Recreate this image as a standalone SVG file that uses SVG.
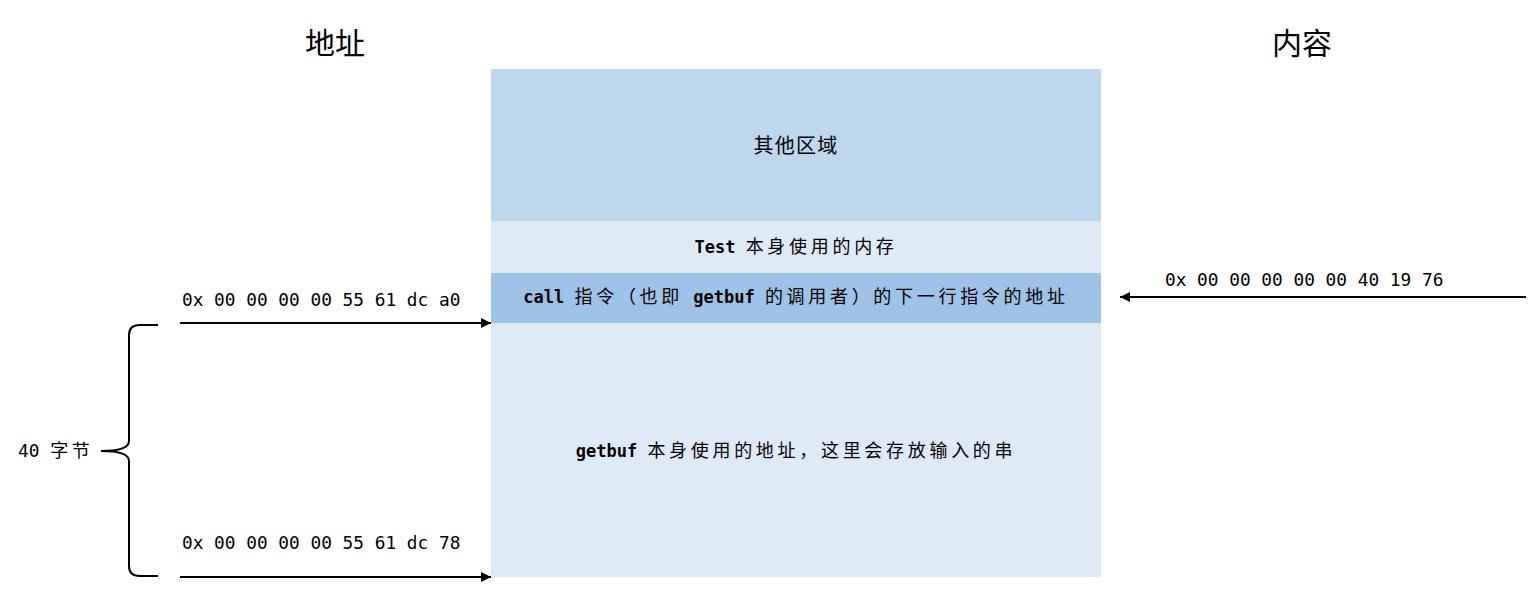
<svg xmlns="http://www.w3.org/2000/svg" width="1538" height="609" viewBox="0 0 1538 609">
<style>
.hdr{font-family:"Noto Sans CJK SC",sans-serif;font-size:30px;fill:#000;text-anchor:middle}
.mono{font-family:"DejaVu Sans Mono","Liberation Mono",monospace;font-size:17.8px;fill:#000}
.code{font-family:"DejaVu Sans Mono","Liberation Mono",monospace;font-size:17px;font-weight:bold}
.cjk{font-family:"Noto Sans CJK SC",sans-serif;font-size:18px;letter-spacing:3.7px}
.lbl{fill:#000;text-anchor:middle}
.conn{stroke:#000;stroke-width:2;fill:none}
</style>
<defs>
<marker id="arr" markerWidth="10" markerHeight="10" refX="10" refY="5" orient="auto" markerUnits="userSpaceOnUse">
<path d="M0,0 L10,5 L0,10 Z" fill="#000"/>
</marker>
</defs>
<rect width="1538" height="609" fill="#fff"/>
<g id="header-addr"><text class="hdr" x="335" y="54">地址</text></g>
<g id="header-content"><text class="hdr" x="1302" y="54">内容</text></g>

<g id="region-other">
<rect x="491" y="69" width="610" height="152" fill="#BDD7EE"/>
<text class="lbl" x="796" y="153"><tspan font-family="Noto Sans CJK SC,sans-serif" font-size="20" letter-spacing="1.3">其他区域</tspan></text>
</g>
<g id="region-test">
<rect x="491" y="221" width="610" height="52" fill="#DEEBF7"/>
<text class="lbl" x="796" y="253"><tspan class="code">Test </tspan><tspan class="cjk">本身使用的内存</tspan></text>
</g>
<g id="region-call">
<rect x="491" y="273" width="610" height="50" fill="#9DC3E6"/>
<text class="lbl" x="796" y="303"><tspan class="code">call </tspan><tspan class="cjk">指令（也即</tspan><tspan class="code"> getbuf </tspan><tspan class="cjk">的调用者）的下一行指令的地址</tspan></text>
</g>
<g id="region-getbuf">
<rect x="491" y="323" width="610" height="254" fill="#DEEBF7"/>
<text class="lbl" x="796" y="457"><tspan class="code">getbuf </tspan><tspan class="cjk">本身使用的地址，这里会存放输入的串</tspan></text>
</g>

<g id="label-top"><text class="mono" x="182" y="306">0x 00 00 00 00 55 61 dc a0</text></g>
<g id="label-bottom"><text class="mono" x="182" y="549">0x 00 00 00 00 55 61 dc 78</text></g>
<g id="label-ret"><text class="mono" x="1165" y="286">0x 00 00 00 00 00 40 19 76</text></g>
<g id="label-bytes"><text x="18" y="457"><tspan class="mono">40 </tspan><tspan class="cjk" letter-spacing="1.5">字节</tspan></text></g>

<g id="connectors">
<line class="conn" x1="180" y1="323" x2="491" y2="323" marker-end="url(#arr)"/>
<line class="conn" x1="180" y1="577" x2="491" y2="577" marker-end="url(#arr)"/>
<line class="conn" x1="1526" y1="297" x2="1120" y2="297" marker-end="url(#arr)"/>
<path class="conn" d="M158,325 L140,325 Q129,325 129,335 L129,441 Q129,451 101,451 Q129,451 129,461 L129,566 Q129,576 140,576 L158,576"/>
</g>
</svg>
